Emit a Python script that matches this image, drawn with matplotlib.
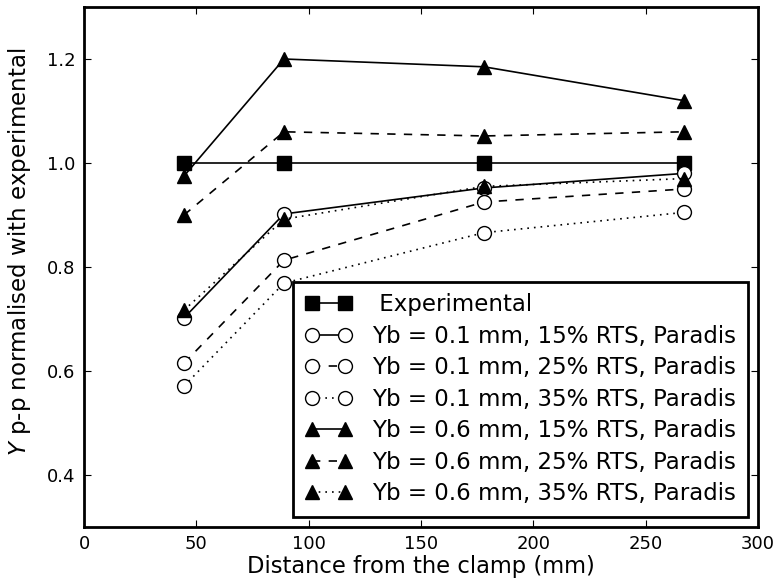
import matplotlib
matplotlib.use("Agg")
import matplotlib.pyplot as plt

# distance from the clamp (mm)
dist = [44.5, 89, 178, 267]

experimental = [1.0, 1.0, 1.0, 1.0]
yb01_15 = [0.702, 0.902, 0.952, 0.98]
yb01_25 = [0.615, 0.813, 0.925, 0.95]
yb01_35 = [0.571, 0.769, 0.866, 0.905]
yb06_15 = [0.975, 1.20, 1.185, 1.12]
yb06_25 = [0.90, 1.06, 1.052, 1.06]
yb06_35 = [0.717, 0.892, 0.955, 0.97]

labels = [" Experimental",
          "Yb = 0.1 mm, 15% RTS, Paradis",
          "Yb = 0.1 mm, 25% RTS, Paradis",
          "Yb = 0.1 mm, 35% RTS, Paradis",
          "Yb = 0.6 mm, 15% RTS, Paradis",
          "Yb = 0.6 mm, 25% RTS, Paradis",
          "Yb = 0.6 mm, 35% RTS, Paradis"]

# old-style dash patterns
dashed = (0, (5, 5))
dotted = (0, (1, 3))

W, H = 776, 579
fig = plt.figure(figsize=(W / 100, H / 100), dpi=100)
# axes box in pixels
ax = fig.add_axes([84 / W, 1 - 527 / H, 674 / W, 520 / H])

ms = 10
lw = 1.2
ax.plot(dist, experimental, color='k', ls='-', marker='s', ms=ms, mfc='k', lw=lw, label=labels[0])
ax.plot(dist, yb01_15, color='k', ls='-', marker='o', ms=ms, mfc='white', lw=lw, label=labels[1])
ax.plot(dist, yb01_25, color='k', ls=dashed, marker='o', ms=ms, mfc='white', lw=lw, label=labels[2])
ax.plot(dist, yb01_35, color='k', ls=dotted, marker='o', ms=ms, mfc='white', lw=lw, label=labels[3])
ax.plot(dist, yb06_15, color='k', ls='-', marker='^', ms=ms, mfc='k', lw=lw, label=labels[4])
ax.plot(dist, yb06_25, color='k', ls=dashed, marker='^', ms=ms, mfc='k', lw=lw, label=labels[5])
ax.plot(dist, yb06_35, color='k', ls=dotted, marker='^', ms=ms, mfc='k', lw=lw, label=labels[6])

ax.set_xlim(0, 300)
ax.set_ylim(0.3, 1.3)
ax.set_xticks([0, 50, 100, 150, 200, 250, 300])
ax.set_yticks([0.4, 0.6, 0.8, 1.0, 1.2])
ax.tick_params(direction='in', top=True, right=True, labelsize=13, length=5, pad=6)
for s in ax.spines.values():
    s.set_linewidth(2)

ax.set_xlabel("Distance from the clamp (mm)", fontsize=16.3, labelpad=1)
ax.set_ylabel("$Y$ p-p normalised with experimental", fontsize=16.5)
ax.yaxis.set_label_coords(-0.075, 0.53)

leg = ax.legend(loc='lower right', numpoints=2, fontsize=16.5, handlelength=2.05,
                fancybox=False, framealpha=1, edgecolor='k', borderaxespad=0.45,
                labelspacing=0.37, handletextpad=0.9, borderpad=0.5)
leg.get_frame().set_linewidth(2)

fig.savefig("out.png", dpi=100)
